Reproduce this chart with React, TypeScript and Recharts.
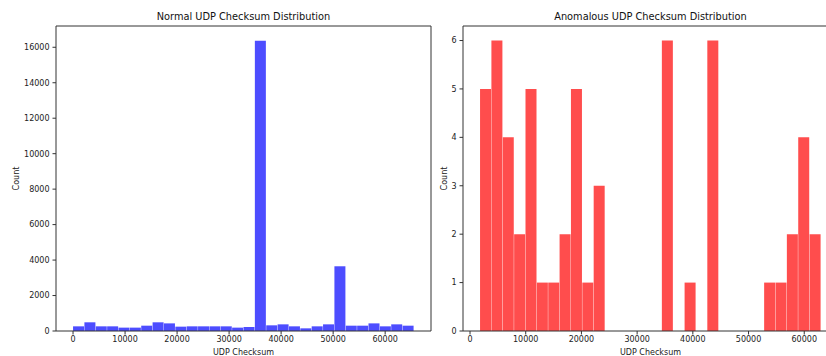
import { BarChart, Bar, XAxis, YAxis, ReferenceLine } from 'recharts';

// histogram counts, 30 equal bins each
const normalRange = [0, 65535];
const normalCounts = [
  263, 490, 263, 263, 190, 190, 300, 490, 430, 245,
  263, 263, 263, 263, 190, 225, 16370, 320, 375, 263,
  150, 263, 375, 3650, 300, 300, 430, 263, 375, 300,
];

const anomalousRange = [1800, 63000];
const anomalousCounts = [
  5, 6, 4, 2, 5, 1, 1, 2, 5, 1,
  3, 0, 0, 0, 0, 0, 6, 0, 1, 0,
  6, 0, 0, 0, 0, 1, 1, 2, 4, 2,
];

const xTicks = [0, 10000, 20000, 30000, 40000, 50000, 60000];
const normalYTicks = [0, 2000, 4000, 6000, 8000, 10000, 12000, 14000, 16000];
const anomalousYTicks = [0, 1, 2, 3, 4, 5, 6];

const FONT = '"DejaVu Sans", sans-serif';
const AXIS = '#333';

function toBins(range: number[], counts: number[]) {
  const w = (range[1] - range[0]) / counts.length;
  return counts.map((count, i) => ({ mid: range[0] + w * (i + 0.5), count }));
}

interface HistProps {
  title: string;
  range: number[];
  counts: number[];
  yTicks: number[];
  yMax: number;
  color: string;
  left: number;
  yAxisWidth: number;
  labelOffset: number;
}

function Histogram({ title, range, counts, yTicks, yMax, color, left, yAxisWidth, labelOffset }: HistProps) {
  const data = toBins(range, counts);
  const span = range[1] - range[0];
  const xDomain = [range[0] - span * 0.05, range[1] + span * 0.05];
  const plotW = 375;
  const tick = { fontSize: 8, fill: '#222', fontFamily: FONT };

  return (
    <div style={{ position: 'absolute', left, top: 0 }}>
      <div
        style={{
          position: 'absolute',
          left: yAxisWidth,
          width: plotW,
          top: 11,
          textAlign: 'center',
          fontFamily: FONT,
          fontSize: 9.8,
          color: '#111',
          lineHeight: '12px',
        }}
      >
        {title}
      </div>
      <BarChart
        width={yAxisWidth + plotW + 5}
        height={356}
        data={data}
        margin={{ top: 26, right: 5, left: 0, bottom: 0 }}
        barCategoryGap={0}
        barGap={0}
      >
        <XAxis
          dataKey="mid"
          type="number"
          domain={xDomain}
          ticks={xTicks}
          allowDataOverflow
          height={25}
          tick={tick}
          tickSize={3.5}
          tickMargin={2}
          stroke={AXIS}
          label={{ value: 'UDP Checksum', position: 'insideBottom', offset: 1, fontSize: 8, fill: '#222', fontFamily: FONT }}
        />
        <YAxis
          type="number"
          domain={[0, yMax]}
          ticks={yTicks}
          allowDataOverflow
          width={yAxisWidth}
          tick={tick}
          tickSize={3.5}
          tickMargin={3}
          stroke={AXIS}
          label={{
            value: 'Count',
            angle: -90,
            position: 'insideLeft',
            offset: labelOffset,
            textAnchor: 'middle',
            fontSize: 8,
            fill: '#222',
            fontFamily: FONT,
          }}
        />
        <Bar dataKey="count" fill={color} isAnimationActive={false} />
        {/* top and right spines */}
        <ReferenceLine y={yMax} stroke={AXIS} ifOverflow="visible" />
        <ReferenceLine x={xDomain[1]} stroke={AXIS} ifOverflow="visible" />
      </BarChart>
    </div>
  );
}

export default function App() {
  return (
    <div
      style={{
        position: 'fixed',
        left: 0,
        top: 0,
        width: 826,
        height: 356,
        overflow: 'hidden',
        background: '#fff',
      }}
    >
      <Histogram
        title="Normal UDP Checksum Distribution"
        range={normalRange}
        counts={normalCounts}
        yTicks={normalYTicks}
        yMax={17200}
        color="#4d4dff"
        left={0}
        yAxisWidth={56}
        labelOffset={16}
      />
      <Histogram
        title="Anomalous UDP Checksum Distribution"
        range={anomalousRange}
        counts={anomalousCounts}
        yTicks={anomalousYTicks}
        yMax={6.3}
        color="#ff4d4d"
        left={420}
        yAxisWidth={43}
        labelOffset={24}
      />
    </div>
  );
}
